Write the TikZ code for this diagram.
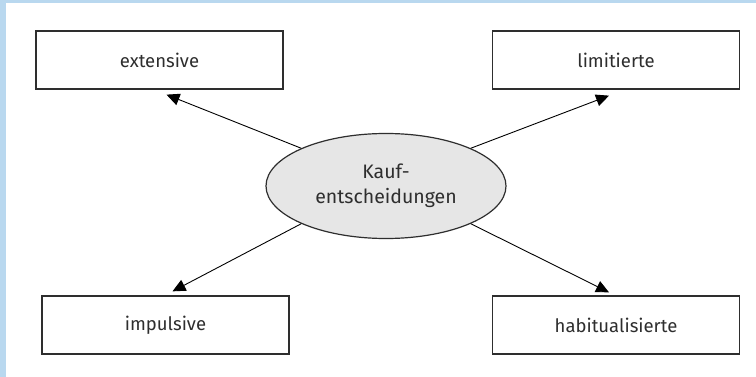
\documentclass[tikz,border=0pt]{standalone}
\usepackage{fontspec}
\setmainfont{Fira Sans}
\usetikzlibrary{shapes.geometric,arrows.meta,calc}
\definecolor{frameblue}{HTML}{B9D8EF}
\definecolor{ink}{HTML}{2E2E2E}
\definecolor{ovalfill}{HTML}{E6E6E6}
\tikzset{
  kindbox/.style={draw=ink, line width=1.3pt, rectangle, minimum width=247pt,
    minimum height=58pt, inner sep=0pt, text=ink, font=\fontsize{18.5}{22}\selectfont},
  centre/.style={draw=ink, line width=1.2pt, ellipse, fill=ovalfill,
    minimum width=240pt, minimum height=105pt, inner sep=0pt, text=ink,
    align=center, font=\fontsize{19.5}{25}\selectfont},
  link/.style={draw=black, line width=0.9pt, -{Triangle[length=13pt,width=12pt]}}
}
\begin{document}
\begin{tikzpicture}[x=1pt,y=-1pt]
  % page and light blue frame along the top and left edges
  \fill[white] (0,0) rectangle (756,377);
  \useasboundingbox (0,0) rectangle (756,377);
  \fill[frameblue] (0,0) rectangle (756,3.5);
  \fill[frameblue] (0,0) rectangle (6,377);

  % central oval
  \node[centre] (kauf) at (386,186) {Kauf-\\entscheidungen};

  % the four kinds of decisions
  \node[kindbox] (ext) at (159.5,60) {extensive};
  \node[kindbox] (lim) at (616,60) {limitierte};
  \node[kindbox] (imp) at (165.5,325) {impulsive};
  \node[kindbox] (hab) at (616,325) {habitualisierte};

  % arrow ends just off the box edges
  \coordinate (extend) at ($(ext.south)+(7,5)$);
  \coordinate (limend) at ($(lim.south)+(-7,6)$);
  \coordinate (impend) at ($(imp.north)+(7,-4)$);
  \coordinate (habend) at ($(hab.north)+(-7,-3)$);

  \draw[link] (kauf.156) -- (extend);
  \draw[link] (kauf.24) -- (limend);
  \draw[link] (kauf.204) -- (impend);
  \draw[link] (kauf.336) -- (habend);
\end{tikzpicture}
\end{document}
